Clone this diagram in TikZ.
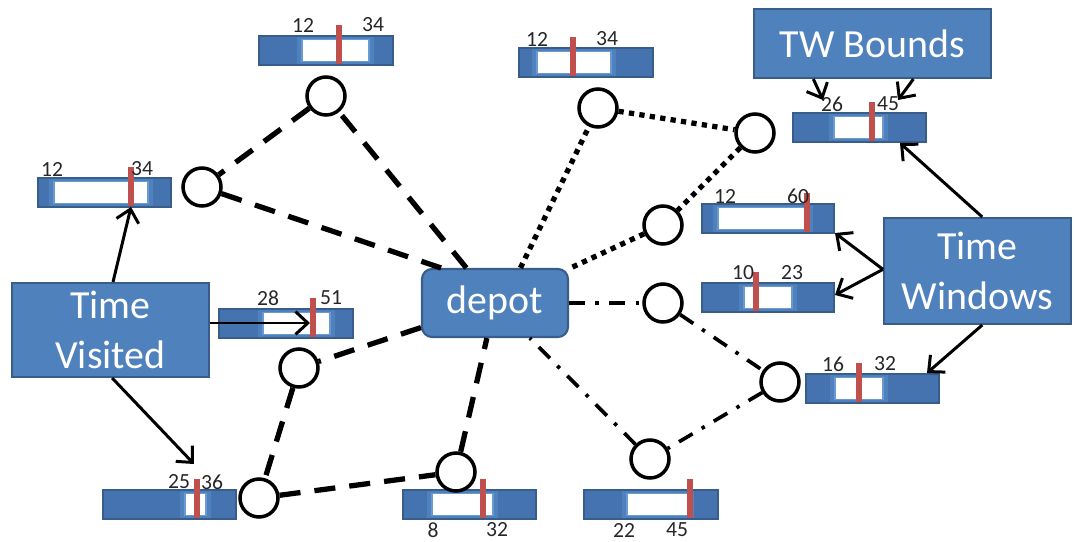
\documentclass[tikz,border=0pt]{standalone}
\usepackage{fontspec}
\setmainfont{Carlito}
\usetikzlibrary{arrows.meta,calc}
\definecolor{boxfill}{HTML}{4F81BD}
\definecolor{boxline}{HTML}{385D8A}
\definecolor{barout}{HTML}{4473B0}
\definecolor{barmid}{HTML}{4F81BD}
\definecolor{barthin}{HTML}{6A9AD4}
\definecolor{redc}{HTML}{C0504D}
\definecolor{labc}{HTML}{262626}
\tikzset{
  bigbox/.style={rectangle, draw=boxline, fill=boxfill, line width=1.2pt, text=white, align=center,
    font=\fontsize{22.7}{28}\selectfont, inner sep=0pt},
  barbox/.style={rectangle, draw=boxline, fill=barout, line width=0.9pt, minimum height=0.58cm, inner sep=0pt},
  lab/.style={text=labc, font=\fontsize{12.3}{14}\selectfont, inner sep=0pt},
  cnode/.style={circle, draw=black, line width=2pt, fill=white, minimum size=0.76cm, inner sep=0pt},
  dashroute/.style={line width=3pt, dash pattern=on 12pt off 8pt},
  dotroute/.style={line width=3pt, dash pattern=on 3pt off 3pt},
  ddroute/.style={line width=2.1pt, dash pattern=on 9pt off 6pt on 2pt off 6pt},
  arr/.style={line width=1.7pt, -{Straight Barb[length=7pt,width=13pt,line width=1.7pt]}}
}
\newcommand{\twbar}[7]{%
  \node[barbox, minimum width={(#3-#2)*0.02cm}] (#1) at ({(#2+#3)/2},{#4+14.5}) {};
  \fill[barmid] ({#5-5},{#4+1.2}) rectangle ({#6+5},{#4+27.8});
  \fill[white] (#5,{#4+3.5}) rectangle (#6,{#4+25.5});
  \draw[barthin, line width=0.7pt] (#5,{#4+3.5}) rectangle (#6,{#4+25.5});
  \fill[redc] ({#7-3},{#4-11}) rectangle ({#7+3},{#4+27.5});
}
\begin{document}
\begin{tikzpicture}[x=0.02cm,y=-0.02cm]
\useasboundingbox (0,0) rectangle (1075,541);

% time-window bars
\twbar{b1}{259}{393}{36}{302}{369}{339}
\twbar{b2}{38}{171}{178}{54}{148}{131}
\twbar{b3}{519}{653}{48}{537}{611}{573}
\twbar{btw}{793}{926}{113}{834}{883}{872}
\twbar{b60}{702}{834}{204}{718}{808}{807}
\twbar{b23}{702}{834}{283}{744}{792}{756}
\twbar{b16}{806}{939}{374}{835}{883}{859}
\twbar{b28}{219}{353}{309}{263}{330}{313}
\twbar{b25}{103}{236}{490}{185}{206}{197}
\twbar{b8}{403}{536}{490}{432}{493}{483}
\twbar{b22}{584}{718}{490}{627}{689}{690}

% labels
\node[lab] (l1a) at (303,25) {12};
\node[lab] (l1b) at (373,25) {34};
\node[lab] (l2a) at (52,169) {12};
\node[lab] (l2b) at (142,169) {34};
\node[lab] (l3a) at (537,39) {12};
\node[lab] (l3b) at (607,39) {34};
\node[lab] (ltwa) at (832,104) {26};
\node[lab] (ltwb) at (888,104) {45};
\node[lab] (l60a) at (725,196) {12};
\node[lab] (l60b) at (798,196) {60};
\node[lab] (l23a) at (743,273) {10};
\node[lab] (l23b) at (792,273) {23};
\node[lab] (l16a) at (833,364) {16};
\node[lab] (l16b) at (885,364) {32};
\node[lab] (l28a) at (268,298) {28};
\node[lab] (l28b) at (331,298) {51};
\node[lab] (l25a) at (179,482) {25};
\node[lab] (l25b) at (212,482) {36};
\node[lab] (l8a) at (433,530) {8};
\node[lab] (l8b) at (497,530) {32};
\node[lab] (l22a) at (624,530) {22};
\node[lab] (l22b) at (677,530) {45};

% big boxes
\node[bigbox, minimum width=3.94cm, minimum height=1.88cm] (tvis) at (110.5,330) {Time\\Visited};
\node[bigbox, minimum width=3.74cm, minimum height=2.12cm] (twin) at (977.5,271) {Time\\Windows};
\node[bigbox, minimum width=4.74cm, minimum height=1.38cm] (twb) at (872.5,43.5) {TW Bounds};
\node[bigbox, rounded corners=0.2cm, minimum width=2.92cm, minimum height=1.36cm] (depot) at (495,303) {depot};

% customers
\node[cnode] (c1) at (326,96) {};
\node[cnode] (c2) at (202,187) {};
\node[cnode] (c3) at (299,368) {};
\node[cnode] (c4) at (259,498) {};
\node[cnode] (c5) at (456,472) {};
\node[cnode] (c6) at (650,459) {};
\node[cnode] (c7) at (663,303) {};
\node[cnode] (c8) at (780,382) {};
\node[cnode] (c9) at (598,108) {};
\node[cnode] (c10) at (755,133) {};
\node[cnode] (c11) at (663,225) {};

% routes
\draw[dashroute] (depot) -- (c1);
\draw[dashroute] (c1) -- (c2);
\draw[dashroute] (c2) -- (depot.147);
\draw[dashroute] (depot) -- (c3);
\draw[dashroute] (c3) -- (c4);
\draw[dashroute] (c4) -- (c5);
\draw[dashroute] (c5) -- (depot);
\draw[dotroute] (depot.54) -- (c9);
\draw[dotroute] (c9) -- (c10);
\draw[dotroute] (c10) -- (c11);
\draw[dotroute] (c11) -- (depot);
\draw[ddroute] (depot) -- (c7);
\draw[ddroute] (c7) -- (c8);
\draw[ddroute] (c8) -- (c6);
\draw[ddroute] (c6) -- (depot);

% arrow targets
\coordinate (t1) at (823,100);
\coordinate (t2) at (898,100);
\coordinate (t3) at (900,143);
\coordinate (t4) at (835,233);
\coordinate (t5) at (835,295);
\coordinate (t6) at (927,373);
\coordinate (t7) at (131,207);
\coordinate (t8) at (310,323);
\coordinate (t9) at (194,464);

\draw[arr] (twb.211) -- (t1);
\draw[arr] (twb.319) -- (t2);
\draw[arr] (twin.85) -- (t3);
\draw[arr] (twin.179) -- (t4);
\draw[arr] (twin.179) -- (t5);
\draw[arr] (twin.275) -- (t6);
\draw[arr] (tvis.87) -- (t7);
\draw[arr] (tvis.east |- t8) -- (t8);
\draw[arr] (tvis.272) -- (t9);
\end{tikzpicture}
\end{document}
